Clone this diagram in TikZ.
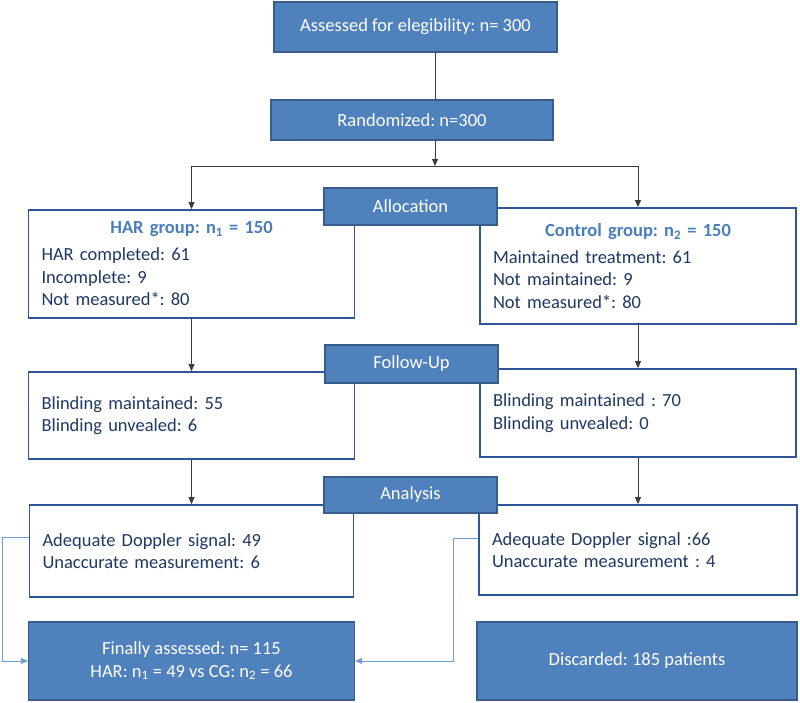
\documentclass[tikz,border=0pt]{standalone}
\usepackage{fontspec}
\setmainfont{Carlito}
\usetikzlibrary{arrows.meta}
\definecolor{boxblue}{RGB}{79,129,189}
\definecolor{boxrim}{RGB}{56,93,138}
\definecolor{framerim}{RGB}{47,85,151}
\definecolor{navy}{RGB}{31,56,100}
\definecolor{headblue}{RGB}{74,126,187}
\definecolor{linkblue}{RGB}{112,156,218}
\definecolor{wire}{RGB}{60,60,60}
\tikzset{
  |-/.style={to path={|- (\tikztotarget) \tikztonodes}},
  -|/.style={to path={-| (\tikztotarget) \tikztonodes}},
  bluebox/.style={shape=rectangle, draw=boxrim, line width=1.2pt, fill=boxblue, text=white, align=center},
  framebox/.style={shape=rectangle, draw=framerim, line width=1.8pt, fill=white, text=navy, align=left, inner xsep=13pt},
  arr/.style={wire, line width=0.8pt, -{Triangle[length=7pt,width=6pt]}},
  link/.style={draw=linkblue, line width=0.8pt, -{Triangle[length=7pt,width=6pt]}},
}
\newcommand{\grouphead}[1]{\makebox[\linewidth]{\color{headblue}\bfseries #1}\\[4.5pt]}
\frenchspacing

\begin{document}
\begin{tikzpicture}[x=1pt, y=-1pt, nodes={font=\fontsize{18.5}{22.5}\selectfont}]
\useasboundingbox (0,0) rectangle (800,702);
\begin{scope}[nodes=bluebox]
  \node[minimum width=283pt, minimum height=50pt] (assess) at (415.5, 27) {Assessed for elegibility: n= 300};
  \node[minimum width=282pt, minimum height=40pt] (rand)   at (412,  120) {Randomized: n=300};
\end{scope}
\begin{scope}[nodes=framebox]
  \node[minimum width=326pt, minimum height=108pt, text width=300pt] (har)  at (191.5, 264)
    {\grouphead{HAR group: n\textsubscript{1} = 150}HAR completed: 61\\Incomplete: 9\\Not measured*: 80};
  \node[minimum width=316pt, minimum height=116pt, text width=290pt] (ctrl) at (638, 266)
    {\grouphead{Control group: n\textsubscript{2} = 150}Maintained treatment: 61\\Not maintained: 9\\Not measured*: 80};
  \node[minimum width=326pt, minimum height=87pt, text width=300pt]  (folL) at (191.5, 415.5)
    {Blinding maintained: 55\\Blinding unvealed: 6};
  \node[minimum width=316pt, minimum height=88pt, text width=290pt]  (folR) at (638, 413)
    {Blinding maintained : 70\\Blinding unvealed: 0};
  \node[minimum width=324pt, minimum height=92pt, text width=298pt]  (anaL) at (191.5, 551)
    {Adequate Doppler signal: 49\\Unaccurate measurement: 6};
  \node[minimum width=318pt, minimum height=90pt, text width=292pt]  (anaR) at (638, 550)
    {Adequate Doppler signal :66\\Unaccurate measurement : 4};
\end{scope}
\begin{scope}[nodes=bluebox]
  \node[minimum width=173pt, minimum height=37pt] (alloc)  at (410.5, 206.5) {Allocation};
  \node[minimum width=173pt, minimum height=38pt] (follow) at (411.5, 364) {Follow-Up};
  \node[minimum width=173pt, minimum height=36pt] (anlys)  at (410.5, 495) {Analysis};
  \node[minimum width=326pt, minimum height=78pt] (final)  at (191.5, 661)
    {Finally assessed: n= 115\\HAR: n\textsubscript{1} = 49 vs CG: n\textsubscript{2} = 66};
  \node[minimum width=320pt, minimum height=78pt] (disc)   at (637, 661) {Discarded: 185 patients};
\end{scope}
\coordinate (split) at (435, 166);
\draw[draw=wire, line width=0.8pt] (assess.south -| split) -- (rand.north -| split);
\path[arr] (rand.south -| split) edge (split)
           (split) edge[-|] (har)
                   edge[-|] (ctrl)
           (har)  edge (folL)
           (ctrl) edge (folR)
           (folL) edge (anaL)
           (folR) edge (anaR);
% measured cases go to the final count
\draw[link] ([yshift=14pt]anaL.west) -- ++(-26,0) |- (final.west);
\draw[link] ([yshift=12pt]anaR.west) -- ++(-25,0) |- (final.east);
\end{tikzpicture}
\end{document}
